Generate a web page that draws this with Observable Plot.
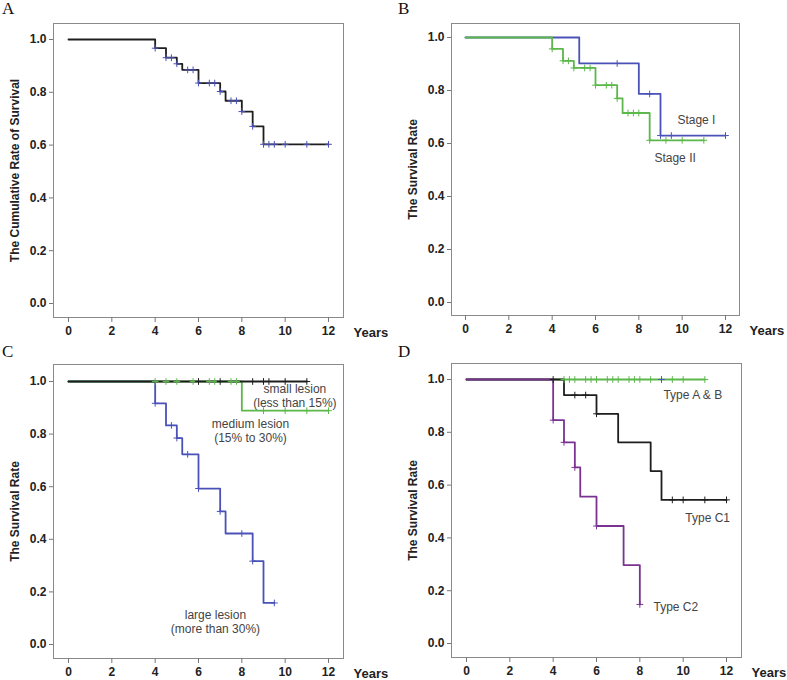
<!DOCTYPE html>
<html><head><meta charset="utf-8">
<script src="https://cdn.jsdelivr.net/npm/d3@7"></script>
<script src="https://cdn.jsdelivr.net/npm/@observablehq/plot@0.6"></script>
<style>
body{margin:0;background:#fff;}
#wrap{position:relative;width:787px;height:680px;background:#fff;overflow:hidden;}
.panel{position:absolute;}
.letter{position:absolute;font-family:"Liberation Serif","Times New Roman",serif;font-size:17px;line-height:17px;color:#111;}
</style></head><body><div id="wrap"></div>
<script>
// ---------- data (years, survival) ----------
const xTicks = [0, 2, 4, 6, 8, 10, 12];
const yTicks = [0, 0.2, 0.4, 0.6, 0.8, 1.0];

// Panel A: all patients
const aDrops = [4, 4.5, 5, 5.25, 6, 7, 7.25, 8, 8.5, 9];
const aSurv = [0.967, 0.931, 0.908, 0.885, 0.835, 0.803, 0.768, 0.727, 0.671, 0.603];
const aCensor = [4, 4.5, 4.75, 5, 5.5, 5.75, 6, 6.5, 6.75, 7, 7.5, 7.75, 8, 8.5, 9, 9.25, 9.5, 10, 11, 12];
const aEnd = 12;

// Panel B: Stage I / Stage II
const stage1Drops = [5.25, 8, 9];
const stage1Surv = [0.902, 0.787, 0.630];
const stage1Censor = [7, 8.5, 9, 9.5, 12];
const stage1End = 12;
const stage2Drops = [4, 4.5, 5, 6, 7, 7.25, 8.5];
const stage2Surv = [0.957, 0.912, 0.885, 0.820, 0.770, 0.715, 0.612];
const stage2Censor = [4, 4.5, 4.75, 5, 5.5, 5.75, 6, 6.5, 6.75, 7, 7.5, 7.75, 8, 8.5, 9.25, 10, 11];
const stage2End = 11;

// Panel C: lesion size
const smallDrops = [];
const smallSurv = [];
const smallCensor = [6, 7, 8.5, 9, 9.25, 10, 11];
const smallEnd = 11;
const mediumDrops = [8];
const mediumSurv = [0.889];
const mediumCensor = [4, 4.5, 5, 5.75, 6.5, 6.75, 7.5, 7.75, 9, 10, 11, 12];
const mediumEnd = 12;
const largeDrops = [4, 4.5, 5, 5.25, 6, 7, 7.25, 8.5, 9];
const largeSurv = [0.917, 0.833, 0.785, 0.723, 0.593, 0.506, 0.422, 0.317, 0.158];
const largeCensor = [4, 4.75, 5, 5.5, 6, 7, 8, 8.5, 9.5];
const largeEnd = 9.5;

// Panel D: type
const abDrops = [];
const abSurv = [];
const abCensor = [4.5, 4.75, 5, 5.5, 5.75, 6, 6.5, 6.75, 7, 7.5, 7.75, 8, 8.5, 9.5, 10, 11];
const abEnd = 11;
const typeACensor = [9];
const c1Drops = [4.5, 6, 7, 8.5, 9];
const c1Surv = [0.941, 0.870, 0.762, 0.653, 0.544];
const c1Censor = [4, 5, 5.5, 6, 9.5, 10, 11, 12];
const c1End = 12;
const c2Drops = [4, 4.5, 5, 5.25, 6, 7.25, 8];
const c2Surv = [0.846, 0.762, 0.667, 0.556, 0.445, 0.297, 0.148];
const c2Censor = [4, 4.5, 5, 6, 8];
const c2End = 8;

// labels
const yLabelA = "The Cumulative Rate of Survival";
const yLabelOther = "The Survival Rate";
const xLabel = "Years";
const labelsB = [{text: "Stage I", x: 9.78, y: 0.69}, {text: "Stage II", x: 8.72, y: 0.547}];
const labelsC = [
  {text: "small lesion\n(less than 15%)", x: 10.45, y: 0.947},
  {text: "medium lesion\n(15% to 30%)", x: 8.4, y: 0.814},
  {text: "large lesion\n(more than 30%)", x: 6.78, y: 0.089}
];
const labelsD = [
  {text: "Type A & B", x: 9.09, y: 0.943},
  {text: "Type C1", x: 10.1, y: 0.477},
  {text: "Type C2", x: 8.63, y: 0.14}
];

// ---------- colours ----------
const BLACK = "#1e1e1e", BLUE = "#4a52b8", GREEN = "#5cb84a", PURPLE = "#7b3392";

// ---------- helpers ----------
function curve(drops, surv, end) {
  const pts = [{t: 0, s: 1}];
  drops.forEach((t, i) => pts.push({t, s: surv[i]}));
  pts.push({t: end, s: surv.length ? surv[surv.length - 1] : 1});
  return pts;
}
function censors(drops, surv, times) {
  return times.map(t => {
    let s = 1;
    drops.forEach((d, i) => { if (d <= t) s = surv[i]; });
    return {t, s};
  });
}

function panel({left, top, width, mL, mR, mT, mB, xDom, yDom, ylabel, series, extraDots = [], labels = [], labelAnchor = "start"}) {
  const marks = [Plot.frame({stroke: "#8a8a8a", strokeWidth: 1})];
  for (const sr of series) {
    marks.push(Plot.line(curve(sr.drops, sr.surv, sr.end), {x: "t", y: "s", curve: "step-after", stroke: sr.color, strokeWidth: 1.8}));
  }
  for (const sr of series) {
    marks.push(Plot.dot(censors(sr.drops, sr.surv, sr.censor), {x: "t", y: "s", symbol: "plus", r: 2.3, stroke: sr.censorColor || sr.color, strokeWidth: 1}));
  }
  for (const d of extraDots) {
    marks.push(Plot.dot(d.times.map(t => ({t, s: d.s})), {x: "t", y: "s", symbol: "plus", r: 2.3, stroke: d.color, strokeWidth: 1}));
  }
  marks.push(Plot.axisY(yTicks, {tickSize: 4, tickPadding: 3, stroke: "#777", fill: "#222", tickFormat: d3.format(".1f"), fontWeight: "bold", fontSize: 12, label: null}));
  marks.push(Plot.axisX(xTicks, {tickSize: 5, tickPadding: 4, stroke: "#777", fill: "#222", fontWeight: "bold", fontSize: 12, label: null}));
  marks.push(Plot.text([xLabel], {frameAnchor: "bottom-right", dx: 10, dy: 15, text: d => d, textAnchor: "start", lineAnchor: "middle", fontWeight: "bold", fontSize: 13, fill: "#222"}));
  marks.push(Plot.text([ylabel], {frameAnchor: "left", dx: -38, text: d => d, rotate: -90, textAnchor: "middle", lineAnchor: "middle", fontWeight: "bold", fontSize: 12, fill: "#222"}));
  if (labels.length) {
    marks.push(Plot.text(labels, {x: "x", y: "y", text: "text", textAnchor: labelAnchor, lineAnchor: "middle", lineHeight: 1.2, fontSize: 12, fill: "#444"}));
  }
  const svg = Plot.plot({
    width, height: 340,
    marginLeft: mL, marginRight: mR, marginTop: mT, marginBottom: mB,
    x: {domain: xDom, axis: null},
    y: {domain: yDom, axis: null},
    style: {fontFamily: "'Liberation Sans', Arial, sans-serif", fontSize: "12px", background: "transparent", overflow: "visible"},
    marks
  });
  svg.classList.add("panel");
  svg.style.left = left + "px";
  svg.style.top = top + "px";
  return svg;
}

const wrap = document.getElementById("wrap");

wrap.appendChild(panel({
  left: 0, top: 0, width: 394, mL: 53, mR: 51, mT: 23, mB: 23,
  xDom: [-0.692, 12.692], yDom: [-0.053, 1.0606], ylabel: yLabelA,
  series: [{drops: aDrops, surv: aSurv, end: aEnd, censor: aCensor, color: BLACK, censorColor: BLUE}]
}));

wrap.appendChild(panel({
  left: 394, top: 0, width: 393, mL: 57, mR: 48, mT: 23, mB: 25,
  xDom: [-0.646, 12.646], yDom: [-0.049, 1.0528], ylabel: yLabelOther,
  series: [
    {drops: stage1Drops, surv: stage1Surv, end: stage1End, censor: stage1Censor, color: BLUE},
    {drops: stage2Drops, surv: stage2Surv, end: stage2End, censor: stage2Censor, color: GREEN}
  ],
  labels: labelsB, labelAnchor: "start"
}));

wrap.appendChild(panel({
  left: 0, top: 340, width: 394, mL: 53, mR: 51, mT: 24, mB: 22,
  xDom: [-0.692, 12.692], yDom: [-0.0532, 1.0646], ylabel: yLabelOther,
  series: [
    {drops: largeDrops, surv: largeSurv, end: largeEnd, censor: largeCensor, color: BLUE},
    {drops: mediumDrops, surv: mediumSurv, end: mediumEnd, censor: mediumCensor, color: GREEN},
    {drops: smallDrops, surv: smallSurv, end: smallEnd, censor: smallCensor, color: BLACK}
  ],
  labels: labelsC, labelAnchor: "middle"
}));

wrap.appendChild(panel({
  left: 394, top: 340, width: 393, mL: 57, mR: 46, mT: 23, mB: 23,
  xDom: [-0.692, 12.692], yDom: [-0.053, 1.0606], ylabel: yLabelOther,
  series: [
    {drops: abDrops, surv: abSurv, end: abEnd, censor: abCensor, color: GREEN},
    {drops: c1Drops, surv: c1Surv, end: c1End, censor: c1Censor, color: BLACK},
    {drops: c2Drops, surv: c2Surv, end: c2End, censor: c2Censor, color: PURPLE}
  ],
  extraDots: [{times: typeACensor, s: 1, color: BLUE}],
  labels: labelsD, labelAnchor: "start"
}));

for (const [t, l, tp] of [["A", 2, 0], ["B", 398, 0], ["C", 2, 343], ["D", 398, 343]]) {
  const d = document.createElement("div");
  d.className = "letter"; d.textContent = t;
  d.style.left = l + "px"; d.style.top = tp + "px";
  wrap.appendChild(d);
}
</script></body></html>
